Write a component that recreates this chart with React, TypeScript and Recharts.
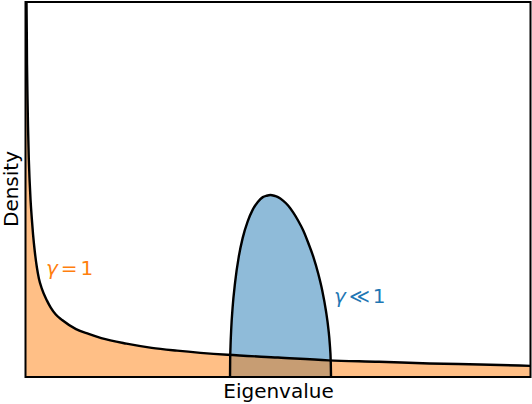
import React from "react";
import {
  ComposedChart,
  Area,
  Line,
  XAxis,
  YAxis,
  ReferenceArea,
  ReferenceDot,
} from "recharts";

// gamma = 1 curve (eigenvalue, density)
const wideX = [0, 0.004, 0.006, 0.008, 0.01, 0.013, 0.016, 0.02, 0.025, 0.03, 0.037, 0.045, 0.053, 0.065, 0.085, 0.1, 0.12, 0.145, 0.2, 0.25, 0.3, 0.4, 0.5, 0.6, 0.8, 1.0, 1.2, 1.4, 1.6, 1.8, 2.0];
const wideY = [5.4, 5.4, 4.5, 4.0, 3.6, 3.15, 2.85, 2.55, 2.28, 2.05, 1.8, 1.58, 1.42, 1.27, 1.1, 1.0, 0.9, 0.82, 0.69, 0.62, 0.56, 0.48, 0.42, 0.38, 0.32, 0.28, 0.24, 0.22, 0.195, 0.18, 0.16];

// gamma << 1 bump
const narrowX = [0.81, 0.8105, 0.812, 0.815, 0.82, 0.83, 0.845, 0.86, 0.88, 0.9, 0.92, 0.94, 0.955, 0.97, 0.985, 1.0, 1.02, 1.04, 1.06, 1.08, 1.1, 1.12, 1.14, 1.16, 1.175, 1.19, 1.2, 1.205, 1.209, 1.21];
const narrowY = [0, 0.23, 0.45, 0.71, 0.99, 1.36, 1.74, 2.0, 2.24, 2.41, 2.52, 2.59, 2.61, 2.62, 2.61, 2.59, 2.54, 2.47, 2.37, 2.25, 2.11, 1.93, 1.73, 1.48, 1.25, 0.95, 0.68, 0.48, 0.21, 0];

const xMax = 2;
const yMax = 5.4;

const wideData = wideX.map((x, i) => ({ x, y: wideY[i] }));
const narrowData = narrowX.map((x, i) => ({ x, y: narrowY[i] }));

const FONT = "'DejaVu Sans', sans-serif";

const GammaLabel = ({ viewBox, color, op }: any) => {
  const vb = viewBox || {};
  const x = (vb.x ?? 0) + (vb.width ?? 0) / 2;
  const y = (vb.y ?? 0) + (vb.height ?? 0) / 2;
  return (
    <text x={x} y={y} fill={color} fontSize={20} fontFamily={FONT} dominantBaseline="central">
      <tspan fontStyle="italic">γ</tspan>
      <tspan dx={3}>{op}</tspan>
      <tspan dx={3}>1</tspan>
    </text>
  );
};

export default function App() {
  return (
    <div style={{ position: "absolute", left: 0, top: 0, width: 532, height: 404, background: "#fff" }}>
      <ComposedChart
        width={532}
        height={404}
        margin={{ top: 2, right: 1.5, bottom: 27, left: 25.5 }}
      >
        <XAxis type="number" dataKey="x" domain={[0, xMax]} hide allowDataOverflow />
        <YAxis type="number" dataKey="y" domain={[0, yMax]} hide allowDataOverflow />

        <Area
          data={narrowData}
          dataKey="y"
          type="monotone"
          stroke="none"
          fill="#1f77b4"
          fillOpacity={0.5}
          isAnimationActive={false}
        />
        <Area
          data={wideData}
          dataKey="y"
          type="monotone"
          stroke="none"
          fill="#ff7f0e"
          fillOpacity={0.5}
          isAnimationActive={false}
        />
        <Line
          data={narrowData}
          dataKey="y"
          type="monotone"
          stroke="#000"
          strokeWidth={2.4}
          dot={false}
          isAnimationActive={false}
        />
        <Line
          data={wideData}
          dataKey="y"
          type="monotone"
          stroke="#000"
          strokeWidth={2.4}
          dot={false}
          isAnimationActive={false}
        />

        <ReferenceArea
          x1={0}
          x2={xMax}
          y1={0}
          y2={yMax}
          fill="none"
          fillOpacity={0}
          stroke="#000"
          strokeWidth={2}
        />

        <ReferenceDot
          x={0.081}
          y={1.57}
          r={0}
          fill="none"
          stroke="none"
          label={<GammaLabel color="#ff7f0e" op="=" />}
        />
        <ReferenceDot
          x={1.222}
          y={1.17}
          r={0}
          fill="none"
          stroke="none"
          label={<GammaLabel color="#1f77b4" op="≪" />}
        />
      </ComposedChart>

      {/* axis titles */}
      <div
        style={{
          position: "absolute",
          left: 0,
          width: 532,
          top: 378,
          paddingLeft: 25,
          boxSizing: "border-box",
          textAlign: "center",
          fontFamily: FONT,
          fontSize: 20,
          lineHeight: "26px",
        }}
      >
        Eigenvalue
      </div>
      <div
        style={{
          position: "absolute",
          left: 1,
          top: 189,
          width: 20,
          height: 0,
          display: "flex",
          alignItems: "center",
          justifyContent: "center",
        }}
      >
        <div
          style={{
            transform: "rotate(-90deg)",
            fontFamily: FONT,
            fontSize: 20,
            lineHeight: "20px",
            whiteSpace: "nowrap",
          }}
        >
          Density
        </div>
      </div>
    </div>
  );
}
